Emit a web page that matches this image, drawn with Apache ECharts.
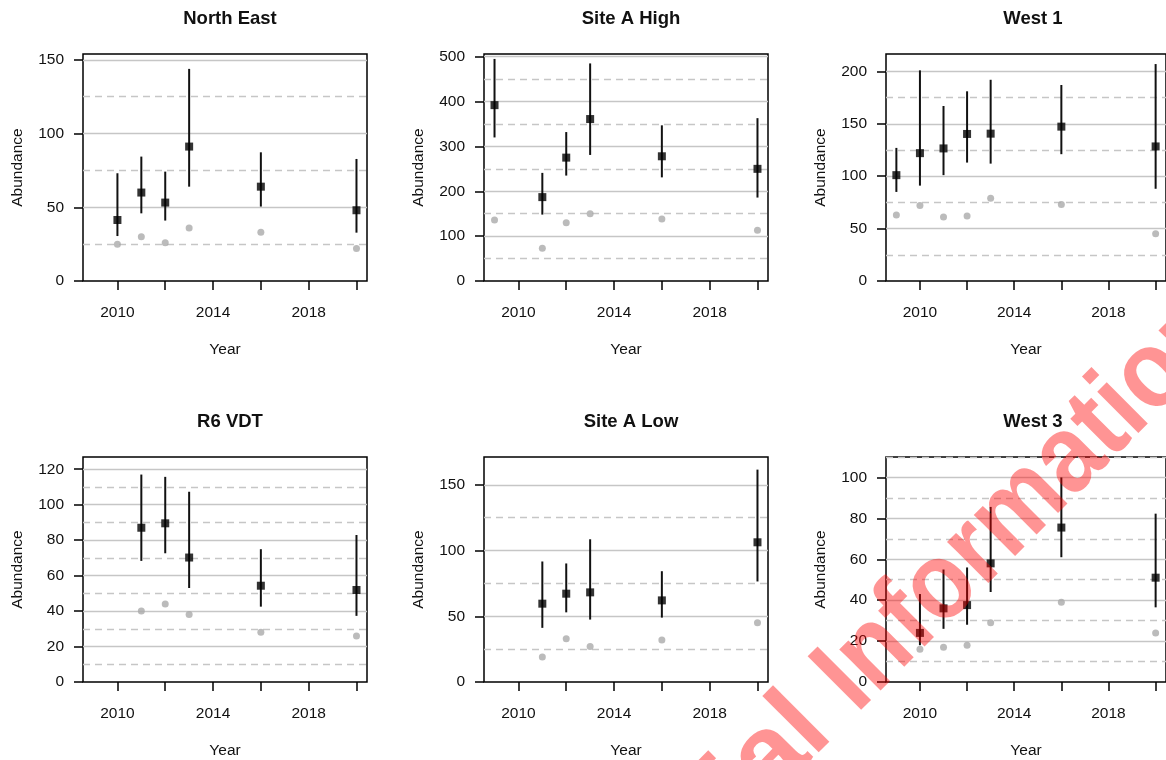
<!DOCTYPE html>
<html>
<head>
<meta charset="utf-8">
<title>Abundance by site</title>
<script src="https://cdn.jsdelivr.net/npm/echarts@6/dist/echarts.min.js"></script>
<style>
  html, body { margin: 0; padding: 0; background: #fff; }
  #chart { width: 1166px; height: 760px; }
</style>
</head>
<body>
<div id="chart"></div>
<script>
// x axis ticks shared by all panels
const yearTicks = [2010, 2012, 2014, 2016, 2018, 2020]
const yearLabels = [2010, 2014, 2018]

// North East
const northEastYears = [2010, 2011, 2012, 2013, 2016, 2020]
const northEastEst = [41.4, 60, 53.2, 91.2, 64, 48]
const northEastLower = [30.5, 45.9, 41, 64, 50.5, 32.8]
const northEastUpper = [73.1, 84.4, 74.2, 143.9, 87.3, 82.8]
const northEastObs = [25, 30, 26, 36, 33, 22]
const northEastTicks = [0, 50, 100, 150]
const northEastMinor = [25, 75, 125]

// Site A High
const siteAHighYears = [2009, 2011, 2012, 2013, 2016, 2020]
const siteAHighEst = [392, 187, 275, 361, 278, 250]
const siteAHighLower = [320, 148, 235, 281, 231, 186]
const siteAHighUpper = [495, 241, 332, 485, 347, 363]
const siteAHighObs = [136, 73, 130, 150, 138, 113]
const siteAHighTicks = [0, 100, 200, 300, 400, 500]
const siteAHighMinor = [50, 150, 250, 350, 450]

// West 1
const west1Years = [2009, 2010, 2011, 2012, 2013, 2016, 2020]
const west1Est = [101, 122, 126.5, 140.3, 140.6, 147.3, 128.4]
const west1Lower = [85, 91, 101, 113, 112, 121, 88]
const west1Upper = [127, 201, 167, 181, 192, 187, 207]
const west1Obs = [63, 72, 61, 62, 79, 73, 45]
const west1Ticks = [0, 50, 100, 150, 200]
const west1Minor = [25, 75, 125, 175]

// R6 VDT
const r6Years = [2011, 2012, 2013, 2016, 2020]
const r6Est = [87, 89.5, 70.2, 54.3, 51.9]
const r6Lower = [68.3, 72.6, 53, 42.5, 37.3]
const r6Upper = [117, 115.7, 107.3, 74.9, 82.9]
const r6Obs = [40, 44, 38, 28, 26]
const r6Ticks = [0, 20, 40, 60, 80, 100, 120]
const r6Minor = [10, 30, 50, 70, 90, 110]

// Site A Low
const siteALowYears = [2011, 2012, 2013, 2016, 2020]
const siteALowEst = [59.6, 67.2, 68.2, 62.1, 106.3]
const siteALowLower = [41.2, 53, 47.5, 49, 76.5]
const siteALowUpper = [91.7, 90.2, 108.6, 84.3, 161.6]
const siteALowObs = [19, 33, 27, 32, 45]
const siteALowTicks = [0, 50, 100, 150]
const siteALowMinor = [25, 75, 125]

// West 3
const west3Years = [2010, 2011, 2012, 2013, 2016, 2020]
const west3Est = [24, 36, 37.6, 58, 75.5, 51]
const west3Lower = [18, 26, 28, 44, 61, 36.5]
const west3Upper = [43, 55, 56, 85.6, 100, 82.3]
const west3Obs = [16, 17, 18, 29, 39, 24]
const west3Ticks = [0, 20, 40, 60, 80, 100]
const west3Minor = [10, 30, 50, 70, 90, 110]

const panels = [
  { title: 'North East', years: northEastYears, est: northEastEst, lower: northEastLower, upper: northEastUpper, obs: northEastObs, ticks: northEastTicks, minor: northEastMinor, ymax: 154 },
  { title: 'Site A High', years: siteAHighYears, est: siteAHighEst, lower: siteAHighLower, upper: siteAHighUpper, obs: siteAHighObs, ticks: siteAHighTicks, minor: siteAHighMinor, ymax: 506 },
  { title: 'West 1', years: west1Years, est: west1Est, lower: west1Lower, upper: west1Upper, obs: west1Obs, ticks: west1Ticks, minor: west1Minor, ymax: 216.6 },
  { title: 'R6 VDT', years: r6Years, est: r6Est, lower: r6Lower, upper: r6Upper, obs: r6Obs, ticks: r6Ticks, minor: r6Minor, ymax: 126.9 },
  { title: 'Site A Low', years: siteALowYears, est: siteALowEst, lower: siteALowLower, upper: siteALowUpper, obs: siteALowObs, ticks: siteALowTicks, minor: siteALowMinor, ymax: 171.2 },
  { title: 'West 3', years: west3Years, est: west3Est, lower: west3Lower, upper: west3Upper, obs: west3Obs, ticks: west3Ticks, minor: west3Minor, ymax: 110 }
]

const FONT = 'Liberation Sans, Arial, Helvetica, sans-serif'
const TEXT = '#111'
const colLeft = [83, 484, 886]
const rowTop = [54, 457]
const boxW = 284
const boxH = 227

const chart = echarts.init(document.getElementById('chart'), null, { renderer: 'canvas' })

const grid = []
const xAxis = []
const yAxis = []
const title = []
const series = []

panels.forEach((p, i) => {
  const left = colLeft[i % 3]
  const top = rowTop[Math.floor(i / 3)]

  grid.push({
    left: left, top: top, width: boxW, height: boxH,
    show: true, borderColor: '#000', borderWidth: 1.5,
    backgroundColor: 'transparent', containLabel: false
  })

  title.push({
    text: p.title,
    left: left + boxW / 2,
    top: top - 50,
    textAlign: 'center',
    textStyle: { fontFamily: FONT, fontSize: 18.5, fontWeight: 'bold', color: TEXT }
  })

  xAxis.push({
    gridIndex: i, type: 'value', min: 2008.56, max: 2020.44,
    axisLine: { show: false },
    splitLine: { show: false },
    axisTick: { show: true, customValues: yearTicks, length: 9, lineStyle: { color: '#000', width: 1.5 } },
    axisLabel: {
      customValues: yearLabels, margin: 24, fontFamily: FONT, fontSize: 15.5, color: TEXT,
      formatter: v => String(v)
    },
    name: 'Year', nameLocation: 'middle', nameGap: 61,
    nameTextStyle: { fontFamily: FONT, fontSize: 15.5, color: TEXT }
  })

  yAxis.push({
    gridIndex: i, type: 'value', min: 0, max: p.ymax,
    axisLine: { show: false },
    splitLine: { show: false },
    axisTick: { show: true, customValues: p.ticks, length: 9, lineStyle: { color: '#000', width: 1.5 } },
    axisLabel: {
      customValues: p.ticks, margin: 19, fontFamily: FONT, fontSize: 15.5, color: TEXT,
      formatter: v => String(v)
    },
    name: 'Abundance', nameLocation: 'middle', nameGap: 57,
    nameTextStyle: { fontFamily: FONT, fontSize: 15.5, color: TEXT }
  })

  // grid lines: solid at labelled ticks, dashed half way between
  const gridLines = p.ticks.filter(v => v > 0).map(v => ({ yAxis: v, lineStyle: { type: 'solid' } }))
    .concat(p.minor.map(v => ({ yAxis: v, lineStyle: { type: [7, 5] } })))
  series.push({
    type: 'line', xAxisIndex: i, yAxisIndex: i, data: [], silent: true, z: 1,
    markLine: {
      silent: true, symbol: ['none', 'none'], z: 1, animation: false,
      label: { show: false },
      lineStyle: { color: '#c6c6c6', width: 1.3 },
      emphasis: { disabled: true },
      data: gridLines
    }
  })

  // raw counts (grey dots)
  series.push({
    type: 'scatter', xAxisIndex: i, yAxisIndex: i, z: 3,
    symbol: 'circle', symbolSize: 7,
    itemStyle: { color: '#aaaaaa' },
    data: p.years.map((y, k) => [y, p.obs[k]])
  })

  // interval bars
  series.push({
    type: 'custom', xAxisIndex: i, yAxisIndex: i, z: 4,
    renderItem: (params, api) => {
      const x = api.value(0)
      const lo = api.coord([x, api.value(1)])
      const hi = api.coord([x, api.value(2)])
      return {
        type: 'line',
        shape: { x1: lo[0], y1: lo[1], x2: hi[0], y2: hi[1] },
        style: { stroke: '#111', lineWidth: 2 }
      }
    },
    encode: { x: 0, y: [1, 2] },
    data: p.years.map((y, k) => [y, p.lower[k], p.upper[k]])
  })

  // estimates (black squares)
  series.push({
    type: 'scatter', xAxisIndex: i, yAxisIndex: i, z: 5,
    symbol: 'rect', symbolSize: 8,
    itemStyle: { color: '#000' },
    data: p.years.map((y, k) => [y, p.est[k]])
  })
})

// watermark stamped across the lower right
const markRot = 45 * Math.PI / 180
const markStyle = { fontFamily: FONT, fontSize: 110, fontWeight: 'bold', fill: 'rgba(255,0,0,0.42)', verticalAlign: 'middle' }

const option = {
  backgroundColor: '#fff',
  animation: false,
  title: title,
  grid: grid,
  xAxis: xAxis,
  yAxis: yAxis,
  series: series,
  graphic: [
    {
      type: 'text', x: 862, y: 720, rotation: markRot, z: 100, silent: true,
      style: Object.assign({ text: 'Confidential ', x: 0, y: -38, align: 'right' }, markStyle)
    },
    {
      type: 'text', x: 862, y: 720, rotation: markRot, scaleX: 0.89, z: 100, silent: true,
      style: Object.assign({ text: 'Information', x: 0, y: -38, align: 'left' }, markStyle)
    }
  ]
}

chart.setOption(option)
window.addEventListener('resize', () => chart.resize())
</script>
</body>
</html>
